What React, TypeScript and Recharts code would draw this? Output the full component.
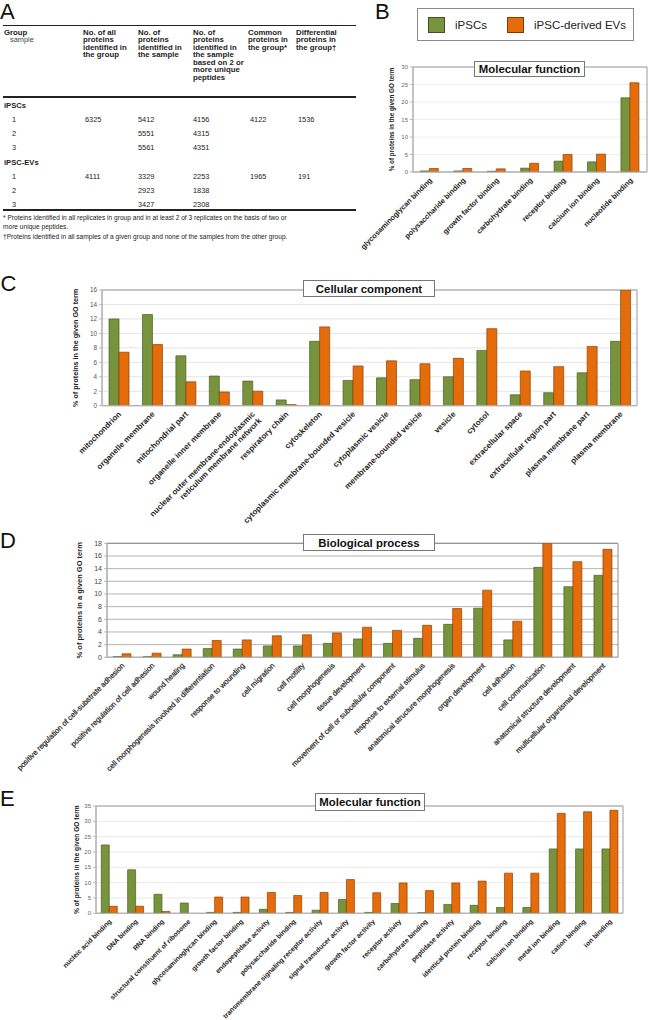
import React from 'react';
import { BarChart, Bar, XAxis, YAxis, CartesianGrid, ReferenceArea, Legend } from 'recharts';

const FONT = "'Liberation Sans', Arial, Helvetica, sans-serif";
const GREEN = '#77933C';
const GREEN_EDGE = '#4B5F24';
const ORANGE = '#E46C0A';
const ORANGE_EDGE = '#8E4106';

// ---- A: table ----
const tableHeads = [
  ['No. of all', 'proteins', 'identified in', 'the group'],
  ['No. of', 'proteins', 'identified in', 'the sample'],
  ['No. of', 'proteins', 'identified in', 'the sample', 'based on 2 or', 'more unique', 'peptides'],
  ['Common', 'proteins in', 'the group*'],
  ['Differential', 'proteins in', 'the group\u2020'],
];
const groupNames = ['iPSCs', 'iPSC-EVs'];
const ipscRows = [
  ['1', '6325', '5412', '4156', '4122', '1536'],
  ['2', '', '5551', '4315', '', ''],
  ['3', '', '5561', '4351', '', ''],
];
const evRows = [
  ['1', '4111', '3329', '2253', '1965', '191'],
  ['2', '', '2923', '1838', '', ''],
  ['3', '', '3427', '2308', '', ''],
];
const footnotes = [
  '* Proteins identified in all replicates in group and in at least 2 of 3 replicates on the basis of two or',
  'more unique peptides.',
  '\u2020Proteins identified in all samples of a given group and none of the samples from the other group.',
];

// ---- B: molecular function (subset) ----
const mfSubTerms = ['glycosaminoglycan binding', 'polysaccharide binding', 'growth factor binding', 'carbohydrate binding', 'receptor binding', 'calcium ion binding', 'nucleotide binding'];
const mfSubIpsc = [0.3, 0.3, 0.2, 1.1, 3.1, 2.9, 21.2];
const mfSubEv = [1.0, 1.0, 0.9, 2.5, 5.0, 5.1, 25.5];
const mfSubTicks = [0, 5, 10, 15, 20, 25, 30];

// ---- C: cellular component ----
const ccTerms = ['mitochondrion', 'organelle membrane', 'mitochondrial part', 'organelle inner membrane', 'nuclear outer membrane-endoplasmic\nreticulum membrane network', 'respiratory chain', 'cytoskeleton', 'cytoplasmic membrane-bounded vesicle', 'cytoplasmic vesicle', 'membrane-bounded vesicle', 'vesicle', 'cytosol', 'extracellular space', 'extracellular region part', 'plasma membrane part', 'plasma membrane'];
const ccIpsc = [12.0, 12.6, 6.9, 4.1, 3.4, 0.8, 8.9, 3.5, 3.85, 3.6, 4.0, 7.65, 1.5, 1.8, 4.55, 8.9];
const ccEv = [7.4, 8.45, 3.3, 1.9, 2.0, 0.15, 10.9, 5.5, 6.2, 5.8, 6.55, 10.65, 4.8, 5.4, 8.2, 16];
const ccTicks = [0, 2, 4, 6, 8, 10, 12, 14, 16];

// ---- D: biological process ----
const bpTerms = ['positive regulation of cell-substrate adhesion', 'positive regulation of cell adhesion', 'wound healing', 'cell morphogenesis involved in differentiation', 'response to wounding', 'cell migration', 'cell motility', 'cell morphogenesis', 'tissue development', 'movement of cell or subcellular component', 'response to external stimulus', 'anatomical structure morphogenesis', 'organ development', 'cell adhesion', 'cell communication', 'anatomical structure development', 'multicellular organismal development'];
const bpIpsc = [0.1, 0.1, 0.4, 1.4, 1.3, 1.8, 1.8, 2.2, 2.9, 2.2, 3.0, 5.2, 7.75, 2.75, 14.2, 11.15, 12.95];
const bpEv = [0.55, 0.65, 1.3, 2.65, 2.75, 3.4, 3.55, 3.85, 4.75, 4.25, 5.05, 7.7, 10.6, 5.7, 18, 15.1, 17.05];
const bpTicks = [0, 2, 4, 6, 8, 10, 12, 14, 16, 18];

// ---- E: molecular function ----
const mfTerms = ['nucleic acid binding', 'DNA binding', 'RNA binding', 'structural constituent of ribosome', 'glycosaminoglycan binding', 'growth factor binding', 'endopeptidase activity', 'polysaccharide binding', 'transmembrane signaling receptor activity', 'signal transducer activity', 'growth factor activity', 'receptor activity', 'carbohydrate binding', 'peptidase activity', 'identical protein binding', 'receptor binding', 'calcium ion binding', 'metal ion binding', 'cation binding', 'ion binding'];
const mfIpsc = [22.3, 14.2, 6.2, 3.35, 0.3, 0.3, 1.3, 0.3, 1.0, 4.5, 0.3, 3.2, 0.2, 2.9, 2.6, 1.9, 1.9, 21.0, 21.0, 21.0];
const mfEv = [2.3, 2.3, 0.6, 0, 5.3, 5.3, 6.8, 5.8, 6.8, 11.0, 6.7, 9.9, 7.4, 9.9, 10.5, 13.1, 13.1, 32.6, 33.1, 33.6];
const mfTicks = [0, 5, 10, 15, 20, 25, 30, 35];

const seriesOrder = ['ipsc', 'ev'];

function SlantTick(props: any) {
  const { x, y, payload, size, bold } = props;
  const lines = String(payload.value).split('\n');
  return (
    <g transform={`translate(${x + 1},${y - 1})`}>
      <text
        transform="rotate(-45)"
        textAnchor="end"
        fontSize={size}
        fontWeight={bold ? 'bold' : 'normal'}
        fill="#222"
        stroke={bold ? 'none' : '#222'}
        strokeWidth={bold ? 0 : 0.2}
        fontFamily={FONT}
      >
        {lines.map((l, i) => (
          <tspan key={i} x={0} dy={i === 0 ? '0.35em' : '1.15em'}>
            {l}
          </tspan>
        ))}
      </text>
    </g>
  );
}

function LegendBox({ payload }: any) {
  const lefts = [10, 89];
  const items = [...(payload || [])].sort(
    (a: any, b: any) => seriesOrder.indexOf(a.dataKey) - seriesOrder.indexOf(b.dataKey)
  );
  return (
    <div
      style={{
        width: 217,
        height: 33,
        boxSizing: 'border-box',
        border: '1px solid #8a8a8a',
        background: '#fff',
        position: 'relative',
        fontFamily: FONT,
      }}
    >
      {items.map((item: any, i: number) => (
        <div
          key={i}
          style={{ position: 'absolute', left: lefts[i], top: 8, display: 'flex', alignItems: 'center', whiteSpace: 'nowrap' }}
        >
          <div
            style={{
              width: 17,
              height: 16,
              boxSizing: 'border-box',
              background: item.color,
              border: '1px solid rgba(0,0,0,0.45)',
            }}
          />
          <span style={{ marginLeft: 10, fontSize: 11.5, color: '#222', lineHeight: '14px' }}>{item.value}</span>
        </div>
      ))}
    </div>
  );
}

type GoChartProps = {
  terms: string[];
  ipsc: number[];
  ev: number[];
  ticks: number[];
  left: number;
  top: number;
  width: number;
  height: number;
  plotLeft: number;
  plotTop: number;
  plotRight: number;
  plotBottom: number;
  yTitle: string;
  yTitleX: number;
  yTitleSize: number;
  tickFont: number;
  tickColor: string;
  labelSize: number;
  labelBold: boolean;
  gridColor: string;
  borderColor: string;
  gap: string;
  legend?: boolean;
};

function GoChart(p: GoChartProps) {
  const data = p.terms.map((term, i) => ({ term, ipsc: p.ipsc[i], ev: p.ev[i] }));
  const max = p.ticks[p.ticks.length - 1];
  const midY = (p.plotTop + p.plotBottom) / 2;
  return (
    <div style={{ position: 'absolute', left: p.left, top: p.top }}>
      <BarChart
        width={p.width}
        height={p.height}
        data={data}
        margin={{ top: p.plotTop, right: p.width - p.plotRight, bottom: 0, left: 0 }}
        barCategoryGap={p.gap}
        barGap={0}
      >
        <CartesianGrid vertical={false} stroke={p.gridColor} />
        <ReferenceArea y1={0} y2={max} fill="none" stroke={p.borderColor} />
        <XAxis
          dataKey="term"
          interval={0}
          height={p.height - p.plotBottom}
          tickLine={false}
          axisLine={{ stroke: '#b8b8b8' }}
          tick={<SlantTick size={p.labelSize} bold={p.labelBold} />}
        />
        <YAxis
          width={p.plotLeft}
          domain={[0, max]}
          ticks={p.ticks}
          interval={0}
          allowDataOverflow
          tickSize={3}
          tickLine={{ stroke: '#b8b8b8' }}
          axisLine={{ stroke: '#b8b8b8' }}
          tick={{ fontSize: p.tickFont, fill: p.tickColor, fontFamily: FONT }}
          label={{
            content: () => (
              <text
                x={p.yTitleX}
                y={midY}
                transform={`rotate(-90 ${p.yTitleX} ${midY})`}
                textAnchor="middle"
                dominantBaseline="central"
                fontSize={p.yTitleSize}
                fontWeight="bold"
                fill="#222"
                fontFamily={FONT}
              >
                {p.yTitle}
              </text>
            ),
          }}
        />
        <Bar dataKey="ipsc" name="iPSCs" fill={GREEN} stroke={GREEN_EDGE} strokeWidth={0.7} isAnimationActive={false} />
        <Bar dataKey="ev" name="iPSC-derived EVs" fill={ORANGE} stroke={ORANGE_EDGE} strokeWidth={0.7} isAnimationActive={false} />
        {p.legend && (
          <Legend
            layout="horizontal"
            verticalAlign="middle"
            align="center"
            wrapperStyle={{ position: 'absolute', left: 87, top: 8, width: 217, height: 33 }}
            content={(lp: any) => <LegendBox payload={lp.payload} />}
          />
        )}
      </BarChart>
    </div>
  );
}

function TitleBox({ text, left, top, width, height }: { text: string; left: number; top: number; width: number; height: number }) {
  return (
    <div
      style={{
        position: 'absolute',
        left,
        top,
        width,
        height,
        boxSizing: 'border-box',
        border: '1px solid #777',
        background: '#fff',
        fontWeight: 'bold',
        fontSize: 11.4,
        color: '#111',
        display: 'flex',
        alignItems: 'center',
        justifyContent: 'center',
        whiteSpace: 'nowrap',
      }}
    >
      {text}
    </div>
  );
}

function PanelLetter({ ch, left, top }: { ch: string; left: number; top: number }) {
  return (
    <div style={{ position: 'absolute', left, top, fontSize: 22, lineHeight: '24px', color: '#111' }}>{ch}</div>
  );
}

function TableA() {
  const headX = [83, 138, 193, 248, 296];
  const valX = [12, 85, 138, 193, 250, 298];
  const rowStep = 14.25;
  const rule = (y: number, h: number) => (
    <div style={{ position: 'absolute', left: 3, top: y, width: 353, height: h, background: '#222' }} />
  );
  const cell = (text: string, x: number, cy: number, bold = false, key?: string) => (
    <div
      key={key}
      style={{
        position: 'absolute',
        left: x,
        top: cy - 5,
        lineHeight: '10px',
        fontSize: bold ? 7.6 : 7.4,
        fontWeight: bold ? 'bold' : 'normal',
        color: '#222',
        whiteSpace: 'nowrap',
      }}
    >
      {text}
    </div>
  );
  const groups = [ipscRows, evRows];
  const rows: React.ReactNode[] = [];
  let cy = 105.5;
  groups.forEach((g, gi) => {
    rows.push(cell(groupNames[gi], 4, cy, true, 'g' + gi));
    cy += rowStep;
    g.forEach((r, ri) => {
      r.forEach((v, ci) => {
        if (v) rows.push(cell(v, valX[ci], cy, false, `r${gi}${ri}${ci}`));
      });
      cy += rowStep;
    });
  });
  return (
    <div>
      {rule(24.5, 1.3)}
      <div style={{ position: 'absolute', left: 4, top: 29, fontSize: 7.8, lineHeight: '7.43px', fontWeight: 'bold', color: '#222' }}>
        Group
      </div>
      <div style={{ position: 'absolute', left: 10, top: 36.4, fontSize: 7.4, lineHeight: '7.43px', color: '#444' }}>
        sample
      </div>
      {tableHeads.map((lines, i) => (
        <div
          key={i}
          style={{
            position: 'absolute',
            left: headX[i],
            top: 29,
            fontSize: 7.8,
            lineHeight: '7.43px',
            fontWeight: 'bold',
            color: '#222',
            whiteSpace: 'nowrap',
          }}
        >
          {lines.map((l, j) => (
            <div key={j}>{l}</div>
          ))}
        </div>
      ))}
      {rule(96, 1.6)}
      {rows}
      {rule(209, 1.6)}
      {footnotes.map((f, i) => (
        <div
          key={i}
          style={{
            position: 'absolute',
            left: 3,
            top: [214.3, 222.7, 232.7][i],
            fontSize: 6.6,
            lineHeight: '8px',
            color: '#222',
            whiteSpace: 'nowrap',
          }}
        >
          {f}
        </div>
      ))}
    </div>
  );
}

export default function App() {
  return (
    <div
      style={{
        position: 'absolute',
        left: 0,
        top: 0,
        width: 648,
        height: 1020,
        background: '#fff',
        overflow: 'hidden',
        fontFamily: FONT,
      }}
    >
      <PanelLetter ch="A" left={0} top={0} />
      <TableA />

      <PanelLetter ch="B" left={375} top={0} />
      <GoChart
        terms={mfSubTerms}
        ipsc={mfSubIpsc}
        ev={mfSubEv}
        ticks={mfSubTicks}
        left={330}
        top={0}
        width={318}
        height={260}
        plotLeft={83}
        plotTop={67}
        plotRight={317}
        plotBottom={172}
        yTitle="% of proteins in the given GO term"
        yTitleX={61}
        yTitleSize={6.3}
        tickFont={6}
        tickColor="#666"
        labelSize={7.4}
        labelBold
        gridColor="#eeeeee"
        borderColor="#9a9a9a"
        gap="22%"
        legend
      />
      <TitleBox text="Molecular function" left={474} top={60.5} width={111} height={16} />

      <PanelLetter ch="C" left={0.5} top={272} />
      <GoChart
        terms={ccTerms}
        ipsc={ccIpsc}
        ev={ccEv}
        ticks={ccTicks}
        left={0}
        top={270}
        width={648}
        height={268}
        plotLeft={102}
        plotTop={20}
        plotRight={637}
        plotBottom={135.7}
        yTitle="% of proteins in the given GO term"
        yTitleX={76}
        yTitleSize={7.2}
        tickFont={6.4}
        tickColor="#555"
        labelSize={8}
        labelBold
        gridColor="#e4e4e4"
        borderColor="#9a9a9a"
        gap="21%"
      />
      <TitleBox text="Cellular component" left={303} top={280} width={132} height={17} />

      <PanelLetter ch="D" left={0} top={528.5} />
      <GoChart
        terms={bpTerms}
        ipsc={bpIpsc}
        ev={bpEv}
        ticks={bpTicks}
        left={0}
        top={530}
        width={648}
        height={262}
        plotLeft={107}
        plotTop={13.3}
        plotRight={618}
        plotBottom={127.3}
        yTitle="% of proteins in a given GO term"
        yTitleX={80}
        yTitleSize={7.5}
        tickFont={7}
        tickColor="#444"
        labelSize={7.5}
        labelBold={false}
        gridColor="#b4b4b4"
        borderColor="#8a8a8a"
        gap="20%"
      />
      <TitleBox text="Biological process" left={303} top={534} width={132} height={17} />

      <PanelLetter ch="E" left={0} top={786.5} />
      <GoChart
        terms={mfTerms}
        ipsc={mfIpsc}
        ev={mfEv}
        ticks={mfTicks}
        left={0}
        top={790}
        width={648}
        height={230}
        plotLeft={96}
        plotTop={16}
        plotRight={623}
        plotBottom={123.3}
        yTitle="% of proteins in the given GO term"
        yTitleX={77}
        yTitleSize={6.6}
        tickFont={6}
        tickColor="#666"
        labelSize={6.8}
        labelBold
        gridColor="#e8e8e8"
        borderColor="#9a9a9a"
        gap="20%"
      />
      <TitleBox text="Molecular function" left={315} top={793} width={110} height={18} />
    </div>
  );
}
